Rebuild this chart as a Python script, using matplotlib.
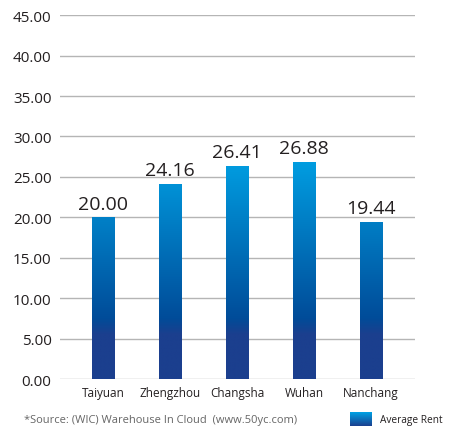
import numpy as np
import matplotlib.pyplot as plt
from matplotlib.colors import LinearSegmentedColormap
from matplotlib.patches import Rectangle

cities = ['Taiyuan', 'Zhengzhou', 'Changsha', 'Wuhan', 'Nanchang']
rent = [20.00, 24.16, 26.41, 26.88, 19.44]
yticks = np.arange(0, 50, 5)

plt.rcParams['font.family'] = ['Open Sans', 'DejaVu Sans']

# gradient in data space: dark navy at the bottom, light blue near the top
ymax_grad = 28.0
cmap = LinearSegmentedColormap.from_list('rent', [
    (0.0, '#1b3f8e'), (5.5 / ymax_grad, '#1b3f8e'), (7.5 / ymax_grad, '#004c99'),
    (1.0, '#00a2e5')])

fig = plt.figure(figsize=(4.54, 4.35), dpi=100)
ax = fig.add_axes([0.132, 0.126, 0.783, 0.837])

x = np.arange(len(cities))
w = 0.33
grad = np.linspace(0, 1, 256).reshape(-1, 1)
for xi, v in zip(x, rent):
    im = ax.imshow(grad, cmap=cmap, origin='lower', aspect='auto',
                   extent=[xi - w / 2, xi + w / 2, 0, ymax_grad], zorder=2,
                   interpolation='bilinear')
    clip = Rectangle((xi - w / 2, 0), w, v, transform=ax.transData)
    im.set_clip_path(clip)
    ax.text(xi, v + 0.6, f'{v:.2f}', ha='center', va='bottom', fontsize=14, color='#231f20')

ax.set_xlim(-0.64, 4.66)
ax.set_ylim(0, 45)
ax.set_yticks(yticks)
ax.set_yticklabels([f'{t:.2f}' for t in yticks], fontsize=11, color='#231f20')
ax.set_xticks(x)
ax.set_xticklabels(cities, fontsize=8.5, color='#231f20')
ax.grid(axis='y', color='#b5b5b5', lw=1)
ax.set_axisbelow(True)
for s in ax.spines.values():
    s.set_visible(False)
ax.tick_params(length=0)
ax.tick_params(axis='y', pad=6)
ax.tick_params(axis='x', pad=5)

fig.text(0.053, 0.033, '*Source: (WIC) Warehouse In Cloud  (www.50yc.com)',
         fontsize=8, color='#666666', va='center')
lax = fig.add_axes([0.77, 0.018, 0.048, 0.032])
lax.imshow(grad, cmap=LinearSegmentedColormap.from_list('lg', ['#1b3f8e', '#00a2e5']),
           origin='lower', aspect='auto')
lax.axis('off')
fig.text(0.838, 0.033, 'Average Rent', fontsize=7.3, color='#231f20', va='center')

fig.savefig('out.png', dpi=100)
